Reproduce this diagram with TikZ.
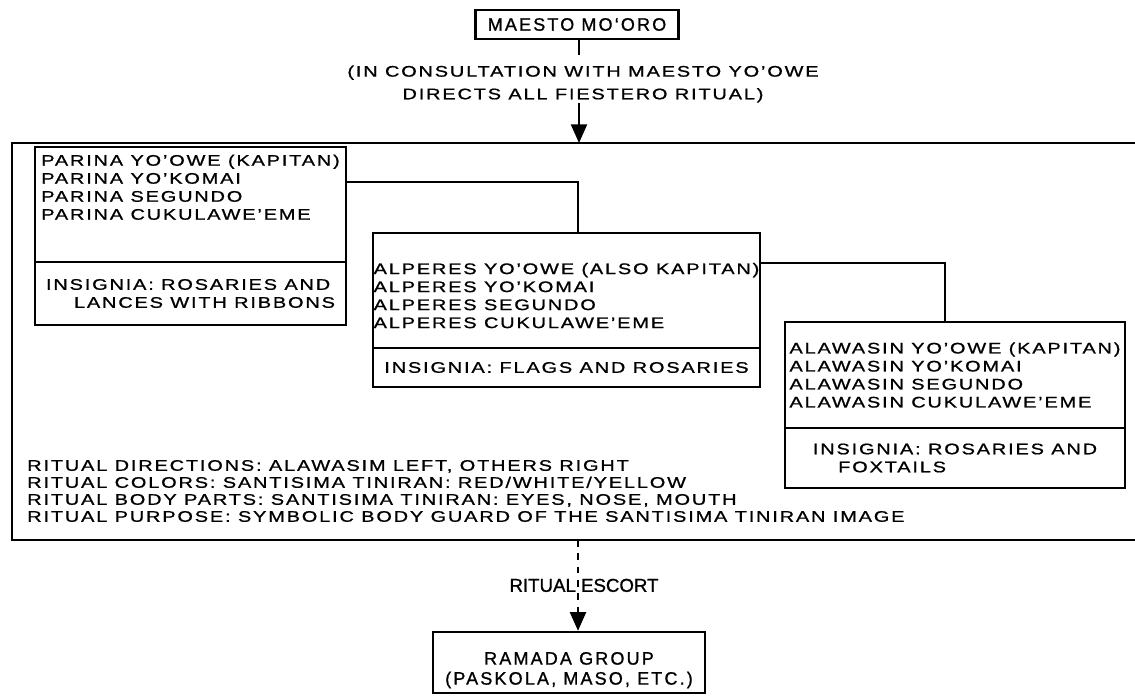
\documentclass[tikz,border=0pt]{standalone}
\usepackage{fontspec}
\setmainfont{Liberation Sans}[FakeStretch=1.3,LetterSpace=12,FakeBold=1]
\newfontfamily\plainfont{Liberation Sans}[LetterSpace=12,FakeBold=1]
\newfontfamily\escfont{Liberation Sans}[FakeBold=1]
\usetikzlibrary{positioning,arrows.meta}
\newcommand{\lift}[1]{\rule{0pt}{#1}}

\begin{document}
\begin{tikzpicture}[x=0.75pt, y=-0.75pt, node distance=0pt,
    txt/.style={inner sep=0pt, align=left, font=\fontsize{11.5}{13.5}\selectfont},
    grp/.style={txt, draw, line width=1.8pt, outer sep=0pt},
    link/.style={line width=1.6pt}, >={Triangle[length=14pt,width=12pt]}]
  \useasboundingbox (0,0) rectangle (1135,698);
  \node[draw, line width=1.8pt, inner sep=0pt, minimum width=152pt, minimum height=22pt,
    font=\plainfont\fontsize{13.5}{15}\selectfont] (mo) at (577,24.5) {MAESTO MO‘ORO};
  \coordinate (tick) at (579,55);
  \coordinate (ftop) at (579,143);
  \coordinate (fbot) at (578,540);
  \node[txt, align=center, font=\fontsize{11.5}{17}\selectfont] (cons) at (583,84)
    {(IN CONSULTATION WITH MAESTO YO’OWE\\DIRECTS ALL FIESTERO RITUAL)};
  \draw[link] (mo.south -| tick) -- (tick);
  \draw[link, ->] (cons.south -| ftop) -- (ftop);
  \draw[line width=2.2pt] (1135,143) -- (12,143) -- (12,540) -- (1135,540);

  \node[grp, anchor=north west, minimum width=233.25pt, minimum height=86.25pt] (pn) at (35,147)
    {PARINA YO’OWE (KAPITAN)\\PARINA YO’KOMAI\\PARINA SEGUNDO\\PARINA CUKULAWE’EME\\[12.5pt]};
  \node[grp, below=of pn, minimum width=233.25pt, minimum height=47.25pt] (pi)
    {INSIGNIA: ROSARIES AND\\\hspace*{21pt}LANCES WITH RIBBONS};
  \node[grp, anchor=north west, minimum width=290.25pt, minimum height=86.25pt] (an) at (373,233)
    {\lift{16pt}ALPERES YO’OWE (ALSO KAPITAN)\\ALPERES YO’KOMAI\\ALPERES SEGUNDO\\ALPERES CUKULAWE’EME};
  \node[grp, below=of an, minimum width=290.25pt, minimum height=29.25pt] (ai)
    {INSIGNIA: FLAGS AND ROSARIES};
  \node[grp, anchor=north west, minimum width=255pt, minimum height=79.5pt] (wn) at (785,322)
    {ALAWASIN YO’OWE (KAPITAN)\\ALAWASIN YO’KOMAI\\ALAWASIN SEGUNDO\\ALAWASIN CUKULAWE’EME};
  \node[grp, below=of wn, minimum width=255pt, minimum height=45pt] (wi)
    {INSIGNIA: ROSARIES AND\\\hspace*{19pt}FOXTAILS};
  \draw[link] ([yshift=-26.25pt]pn.north east) -| ([xshift=8.6pt]an.north);
  \draw[link] ([yshift=-22.5pt]an.north east) -| ([xshift=-7.5pt]wn.north);

  \node[txt, anchor=west, font=\fontsize{11.5}{12.75}\selectfont] (rit) at (27,491)
    {RITUAL DIRECTIONS: ALAWASIM LEFT, OTHERS RIGHT\\RITUAL COLORS: SANTISIMA TINIRAN: RED/WHITE/YELLOW\\RITUAL BODY PARTS: SANTISIMA TINIRAN: EYES, NOSE, MOUTH\\RITUAL PURPOSE: SYMBOLIC BODY GUARD OF THE SANTISIMA TINIRAN IMAGE};

  \node[draw, line width=1.8pt, inner sep=0pt, minimum width=204pt, minimum height=45.75pt, align=center,
    font=\plainfont\fontsize{13.5}{15}\selectfont] (rg) at (569,662.5) {\lift{21pt}RAMADA GROUP\\(PASKOLA, MASO, ETC.)};
  \draw[link, ->, dash pattern=on 5pt off 5pt] (fbot) -- node[xshift=4.5pt, font=\escfont\fontsize{14}{16}\selectfont]
    {RITUAL ESCORT} (fbot |- rg.north);
\end{tikzpicture}
\end{document}
